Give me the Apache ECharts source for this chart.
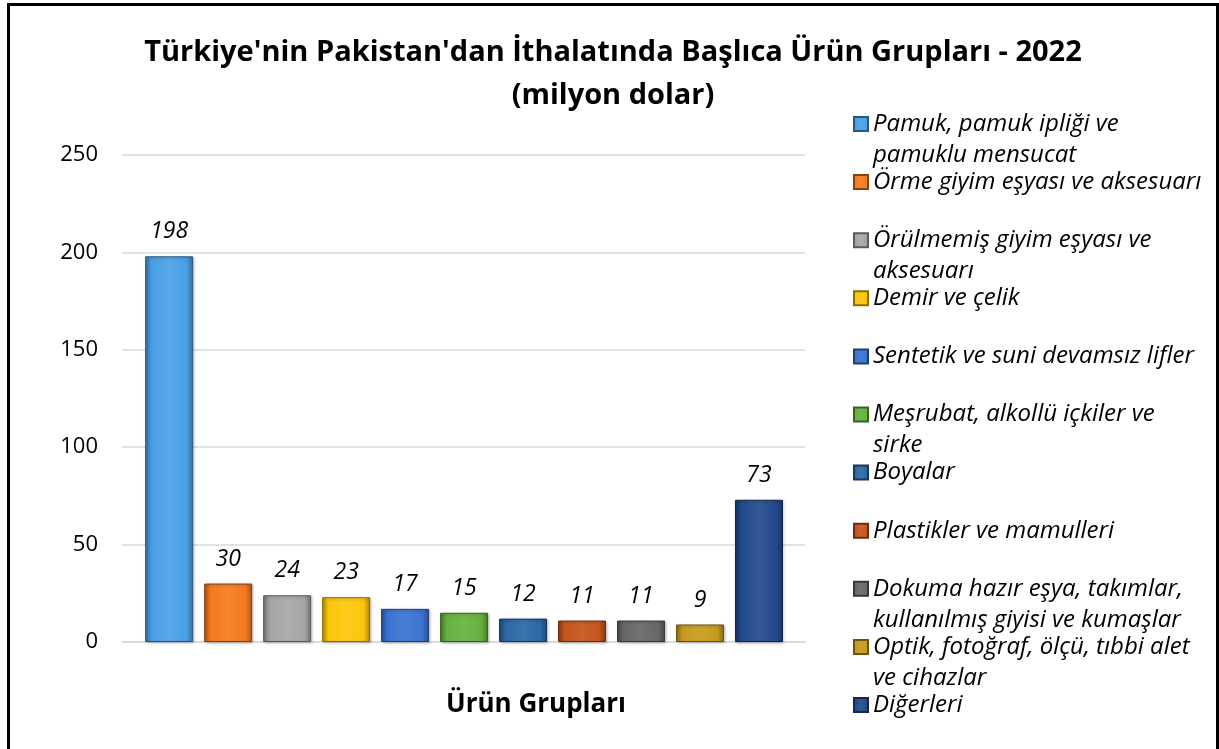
<!DOCTYPE html>
<html>
<head>
<meta charset="utf-8">
<script src="https://cdn.jsdelivr.net/npm/echarts@6/dist/echarts.min.js"></script>
<style>
  html, body { margin: 0; padding: 0; background: #fff; }
  #frame {
    position: absolute; left: 7px; top: 3px; width: 1206px; height: 760px;
    border: 3px solid #000; border-bottom: none;
  }
  #chart { position: absolute; left: 0; top: 0; width: 1219px; height: 749px; }
</style>
</head>
<body>
<div id="frame"></div>
<div id="chart"></div>
<script>
// ürün grupları (kategoriler)
var categories = [
  "Pamuk, pamuk ipliği ve pamuklu mensucat",
  "Örme giyim eşyası ve aksesuarı",
  "Örülmemiş giyim eşyası ve aksesuarı",
  "Demir ve çelik",
  "Sentetik ve suni devamsız lifler",
  "Meşrubat, alkollü içkiler ve sirke",
  "Boyalar",
  "Plastikler ve mamulleri",
  "Dokuma hazır eşya, takımlar, kullanılmış giyisi ve kumaşlar",
  "Optik, fotoğraf, ölçü, tıbbi alet ve cihazlar",
  "Diğerleri"
];
// lejantta görünen satır kırılımları
var legendLabels = [
  "Pamuk, pamuk ipliği ve\npamuklu mensucat",
  "Örme giyim eşyası ve aksesuarı",
  "Örülmemiş giyim eşyası ve\naksesuarı",
  "Demir ve çelik",
  "Sentetik ve suni devamsız lifler",
  "Meşrubat, alkollü içkiler ve\nsirke",
  "Boyalar",
  "Plastikler ve mamulleri",
  "Dokuma hazır eşya, takımlar,\nkullanılmış giyisi ve kumaşlar",
  "Optik, fotoğraf, ölçü, tıbbi alet\nve cihazlar",
  "Diğerleri"
];
// milyon dolar
var values = [198, 30, 24, 23, 17, 15, 12, 11, 11, 9, 73];
var yTicks = [0, 50, 100, 150, 200, 250];

var colors = [
  "#4a9fe6", "#f47a1e", "#a6a6a6", "#fcc60a", "#3a73d0", "#66b13e",
  "#2b67a6", "#c5541b", "#676767", "#c69a1c", "#22498c"
];

function shade(hex, f) {
  var n = parseInt(hex.slice(1), 16);
  var r = n >> 16, g = (n >> 8) & 255, b = n & 255;
  function c(v) { return Math.max(0, Math.min(255, Math.round(f < 0 ? v * (1 + f) : v + (255 - v) * f))); }
  return "rgb(" + c(r) + "," + c(g) + "," + c(b) + ")";
}

function barFill(col) {
  return new echarts.graphic.LinearGradient(0, 0, 1, 0, [
    { offset: 0, color: shade(col, -0.3) },
    { offset: 0.14, color: col },
    { offset: 0.5, color: shade(col, 0.08) },
    { offset: 0.86, color: col },
    { offset: 1, color: shade(col, -0.3) }
  ]);
}

var fontMain = "'Open Sans', 'DejaVu Sans', sans-serif";

var chartDom = document.getElementById("chart");
var myChart = echarts.init(chartDom);

var series = [];
var legends = [];
for (var i = 0; i < categories.length; i++) {
  series.push({
    name: categories[i],
    type: "bar",
    barWidth: 48,
    barGap: "-100%",
    data: [[i, values[i]]],
    itemStyle: {
      color: barFill(colors[i]),
      borderColor: shade(colors[i], -0.45),
      borderWidth: 1,
      shadowColor: "rgba(0,0,0,0.25)",
      shadowBlur: 3,
      shadowOffsetX: 1,
      shadowOffsetY: 1
    },
    label: {
      show: true,
      position: "top",
      distance: 13,
      formatter: function (p) { return p.value[1]; },
      color: "#000",
      fontStyle: "italic",
      fontSize: 23,
      fontFamily: fontMain
    }
  });
  // iki satırlı metinde ilk satır ikonla hizalı olsun diye başa boş satır
  var twoLine = legendLabels[i].indexOf("\n") >= 0;
  var lineY = 124 + i * 58.1;
  legends.push({
    data: [categories[i]],
    left: 853,
    top: twoLine ? lineY - 46.5 : lineY - 15.5,
    padding: 0,
    itemWidth: 14,
    itemHeight: 14,
    icon: "rect",
    selectedMode: false,
    formatter: (function (k, two) {
      return function () { return (two ? "\n" : "") + legendLabels[k]; };
    })(i, twoLine),
    textStyle: {
      color: "#000",
      fontStyle: "italic",
      fontSize: 24,
      fontFamily: fontMain,
      lineHeight: 31
    }
  });
}

var option = {
  animation: false,
  title: [
    {
      text: "Türkiye'nin Pakistan'dan İthalatında Başlıca Ürün Grupları - 2022\n(milyon dolar)",
      left: 613,
      top: 31,
      padding: 0,
      textAlign: "center",
      textStyle: {
        color: "#000",
        fontWeight: "bold",
        fontSize: 29,
        lineHeight: 43,
        fontFamily: fontMain
      }
    },
    {
      text: "Ürün Grupları",
      left: 536,
      top: 690,
      padding: 0,
      textAlign: "center",
      textStyle: {
        color: "#000",
        fontWeight: "bold",
        fontSize: 26,
        lineHeight: 30,
        fontFamily: fontMain
      }
    }
  ],
  legend: legends,
  grid: { left: 122, right: 414, top: 155, bottom: 107 },
  xAxis: {
    type: "value",
    min: -0.8,
    max: 10.78,
    axisLine: { show: true, onZero: true, lineStyle: { color: "#d9d9d9", width: 1.5 } },
    axisTick: { show: false },
    axisLabel: { show: false },
    splitLine: { show: false }
  },
  yAxis: {
    type: "value",
    min: yTicks[0],
    max: yTicks[yTicks.length - 1],
    interval: 50,
    axisLine: { show: false },
    axisTick: { show: false },
    axisLabel: {
      color: "#000",
      fontSize: 22,
      margin: 24,
      fontFamily: fontMain
    },
    splitLine: { lineStyle: { color: "#d9d9d9", width: 1.5 } }
  },
  series: series
};

option && myChart.setOption(option);
</script>
</body>
</html>
